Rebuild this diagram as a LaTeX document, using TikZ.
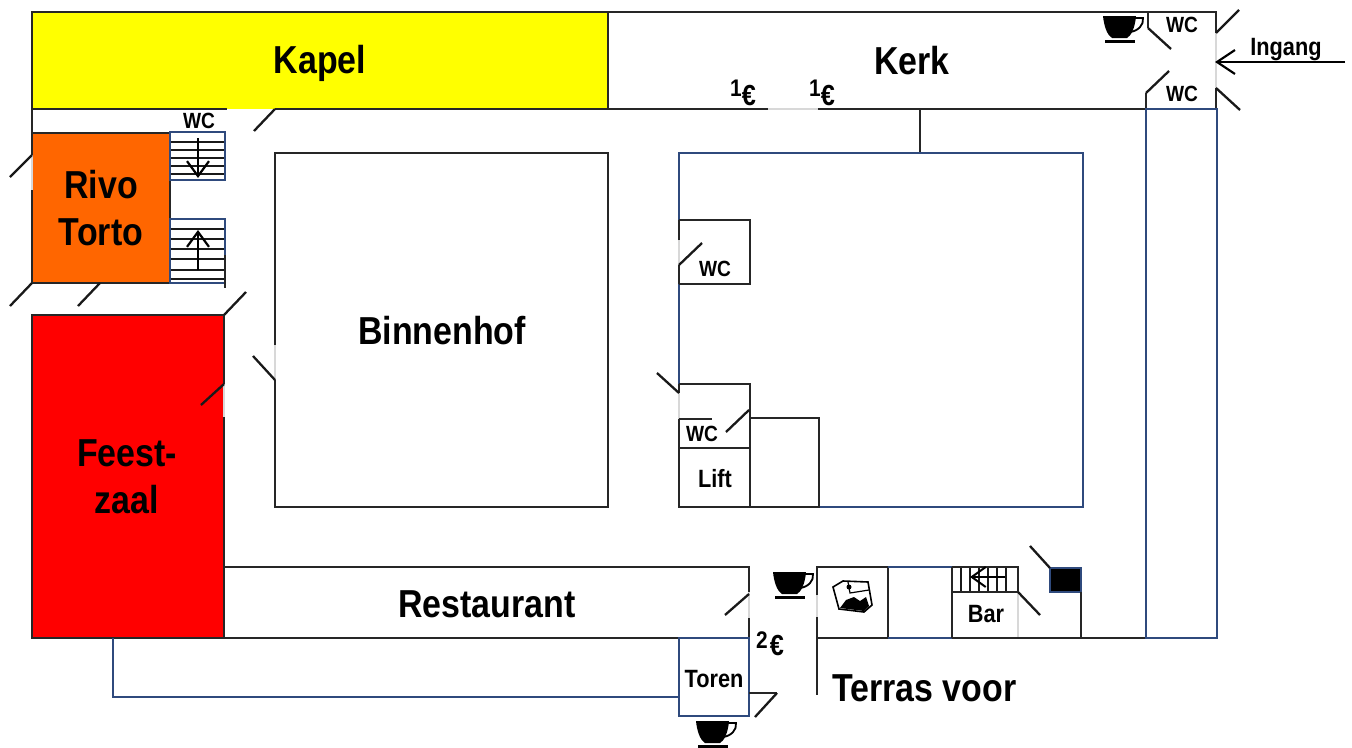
\documentclass[tikz,border=0pt]{standalone}
\usepackage{fontspec}
\setmainfont[FakeStretch=0.87]{Liberation Sans}
\usetikzlibrary{arrows.meta}
\definecolor{navy}{HTML}{2F4A7D}
\definecolor{lightwall}{HTML}{D8D8D8}
\definecolor{rivo}{HTML}{FF6600}
\definecolor{kapel}{HTML}{FFFF00}
\definecolor{feest}{HTML}{FF0000}
\tikzset{
  wall/.style={draw=black!85,line width=2.6pt},
  bluewall/.style={draw=navy,line width=2.6pt},
  gap/.style={draw=lightwall,line width=2pt},
  door/.style={draw=black!90,line width=2.3pt},
  tread/.style={draw=black!90,line width=1.6pt},
  lab/.style={inner sep=0pt,font=\bfseries\fontsize{39}{47}\selectfont,align=center,text=black},
  labwc/.style={inner sep=0pt,font=\bfseries\fontsize{22}{24}\selectfont,text=black},
  labmid/.style={inner sep=0pt,font=\bfseries\fontsize{25}{28}\selectfont,text=black},
  labone/.style={inner sep=0pt,font=\bfseries\fontsize{24}{26}\selectfont,text=black},
  labeur/.style={inner sep=0pt,font=\bfseries\fontsize{29}{30}\selectfont,text=black},
  cup/.pic={
    \fill[black] (-20,-12) -- (13,-12) .. controls (12,0) and (8,8) .. (4,10) -- (-11,10) .. controls (-16,7) and (-19,-2) .. (-20,-12) -- cycle;
    \draw[black,line width=1.8pt] (11,-10) -- (20,-10) .. controls (21,-3) and (15,3) .. (7,4);
    \fill[black] (-18,11.5) rectangle (12,15);
  }
}
\begin{document}
\begin{tikzpicture}[x=1pt,y=-1pt]
\useasboundingbox (0,0) rectangle (1352,747);
\fill[white] (0,0) rectangle (1352,747);
% coloured rooms
\fill[kapel] (32,12) rectangle (608,109);
\fill[rivo] (32,133) rectangle (170,283);
\fill[feest] (32,315) rectangle (224,638);
% light door openings
\draw[gap] (1216,33) -- (1216,88);
\draw[gap] (32,155) -- (32,190);
\draw[gap] (768,109) -- (818,109);
\draw[gap] (275,345) -- (275,380);
\draw[gap] (224,384) -- (224,417);
\draw[gap] (679,240) -- (679,265);
\draw[gap] (679,393) -- (679,419);
\draw[gap] (749,592) -- (749,618);
\draw[gap] (817,595) -- (817,617);
\draw[gap] (1018,592) -- (1018,638);
% outer top part
\draw[wall] (1216,33) -- (1216,12) -- (32,12) -- (32,155);
\draw[wall] (32,190) -- (32,283) -- (170,283) -- (170,133) -- (32,133);
\draw[wall] (32,109) -- (227,109);
\draw[wall] (275,109) -- (768,109);
\draw[wall] (818,109) -- (1146,109);
\draw[wall] (608,12) -- (608,109);
\draw[wall] (1216,88) -- (1216,109);
\draw[wall] (1146,109) -- (1146,93);
\draw[wall] (1148,12) -- (1148,28);
\draw[wall] (920,109) -- (920,153);
% stairs
\foreach \y in {142,150,158,166,174}{\draw[tread] (170,\y) -- (225,\y);}
\foreach \y in {229,239,249,259,270,279}{\draw[tread] (170,\y) -- (225,\y);}
\draw[draw=navy,line width=1.8pt] (170,132) rectangle (225,180);
\draw[draw=navy,line width=1.8pt] (170,219) rectangle (225,283);
\draw[wall] (225,255) -- (225,288);
\draw[draw=black,line width=2.2pt,-{Straight Barb[length=15pt,width=22pt,line width=2.2pt]}] (198,138) -- (198,178);
\draw[draw=black,line width=2.2pt,-{Straight Barb[length=15pt,width=22pt,line width=2.2pt]}] (198,270) -- (198,230);
% Feestzaal + Restaurant
\draw[wall] (224,384) -- (224,315) -- (32,315) -- (32,638) -- (749,638);
\draw[wall] (224,417) -- (224,638);
\draw[wall] (224,567) -- (749,567) -- (749,592);
\draw[wall] (749,618) -- (749,638);
% Binnenhof
\draw[wall] (275,345) -- (275,153) -- (608,153) -- (608,507) -- (275,507) -- (275,380);
% central block
\draw[bluewall] (679,240) -- (679,153) -- (1083,153) -- (1083,507) -- (819,507);
\draw[bluewall] (679,265) -- (679,393);
\draw[wall] (679,220) -- (750,220) -- (750,284) -- (679,284);
\draw[wall] (679,220) -- (679,240);
\draw[wall] (679,265) -- (679,284);
\draw[wall] (679,384) -- (750,384) -- (750,507);
\draw[wall] (679,384) -- (679,393);
\draw[wall] (679,419) -- (712,419);
\draw[wall] (679,419) -- (679,507) -- (819,507) -- (819,418) -- (750,418);
\draw[wall] (679,448) -- (750,448);
% Toren and lower corridor
\draw[bluewall] (113,638) -- (113,697) -- (679,697);
\draw[bluewall] (679,638) -- (679,716) -- (749,716) -- (749,638) -- cycle;
\draw[wall] (749,693) -- (777,693);
% bottom right
\draw[wall] (817,595) -- (817,567) -- (888,567) -- (888,638);
\draw[wall] (817,617) -- (817,695);
\draw[bluewall] (888,567) -- (952,567);
\draw[bluewall] (888,638) -- (952,638);
\draw[wall] (817,638) -- (888,638);
\draw[wall] (952,638) -- (1146,638);
\draw[wall] (952,567) -- (952,638);
\foreach \x in {961,970,979,988,997,1006}{\draw[tread] (\x,567) -- (\x,592);}
\draw[wall] (952,567) -- (1018,567) -- (1018,592) -- (952,592);
\draw[draw=black,line width=2pt,-{Straight Barb[length=14pt,width=20pt,line width=2pt]}] (1005,577) -- (970,577);
\fill[black] (1050,568) rectangle (1081,592);
\draw[draw=navy,line width=1.6pt] (1050,568) rectangle (1081,592);
\draw[wall] (1081,592) -- (1081,638);
% right corridor
\draw[bluewall] (1146,109) rectangle (1217,638);
% doors
\draw[door] (275,109) -- (254,131);
\draw[door] (32,155) -- (10,177);
\draw[door] (32,283) -- (10,306);
\draw[door] (100,283) -- (78,306);
\draw[door] (224,315) -- (246,292);
\draw[door] (224,384) -- (201,405);
\draw[door] (275,380) -- (253,356);
\draw[door] (679,265) -- (702,243);
\draw[door] (679,393) -- (657,373);
\draw[door] (749,410) -- (726,432);
\draw[door] (749,594) -- (725,615);
\draw[door] (777,693) -- (755,717);
\draw[door] (1018,592) -- (1040,615);
\draw[door] (1050,568) -- (1030,546);
\draw[door] (1148,28) -- (1171,49);
\draw[door] (1146,93) -- (1169,71);
\draw[door] (1216,33) -- (1239,10);
\draw[door] (1216,88) -- (1240,110);
% entrance arrow
\coordinate (ingangstart) at (1345,62);
\coordinate (ingangend) at (1215,62);
\draw[draw=black,line width=2.2pt,-{Straight Barb[length=18pt,width=24pt,line width=2.2pt]}] (ingangstart) -- (ingangend);
% cups
\pic at (1123,28) {cup};
\pic at (793,584) {cup};
\pic at (716,733) {cup};
% picture icon
\begin{scope}[shift={(852,596)}]
\draw[black,line width=1.6pt,fill=white] (-19,-9) -- (-9,-15) -- (16,-14) -- (20,9) -- (12,16) -- (-13,13) -- cycle;
\draw[black,line width=1.2pt] (-4,-14) -- (-2,-3) -- (17,-6);
\fill[black] (-12,12) -- (-6,4) -- (2,1) -- (8,5) -- (14,1) -- (17,10) -- (12,15) -- cycle;
\fill[black] (-3,-9) circle (2.5);
\end{scope}
% labels
\node[lab] (kapel) at (320,63) {Kapel};
\node[lab] (kerk) at (912,61) {Kerk};
\node[lab] (rivotorto) at (101,208) {Rivo\\Torto};
\node[lab] (binnenhof) at (442,331) {Binnenhof};
\node[lab] (feestzaal) at (127,477) {Feest-\\zaal};
\node[lab] (restaurant) at (487,604) {Restaurant};
\node[lab,anchor=base west] (terras) at (832,701) {Terras voor};
\node[labwc] (wc1) at (1182,25) {WC};
\node[labwc] (wc2) at (1182,94) {WC};
\node[labwc] (wc3) at (199,121) {WC};
\node[labwc] (wc4) at (715,269) {WC};
\node[labwc] (wc5) at (702,434) {WC};
\node[labmid] (lift) at (715,479) {Lift};
\node[labmid] (toren) at (714,679) {Toren};
\node[labmid] (bar) at (986,614) {Bar};
\node[labmid] (ingang) at (1286,50) {Ingang};
\node[labone] (one1) at (736,88) {1};
\node[labeur] (eur1) at (749,96) {€};
\node[labone] (one2) at (815,88) {1};
\node[labeur] (eur2) at (828,96) {€};
\node[labone] (two) at (762,640) {2};
\node[labeur] (eur3) at (777,646) {€};
\end{tikzpicture}
\end{document}
